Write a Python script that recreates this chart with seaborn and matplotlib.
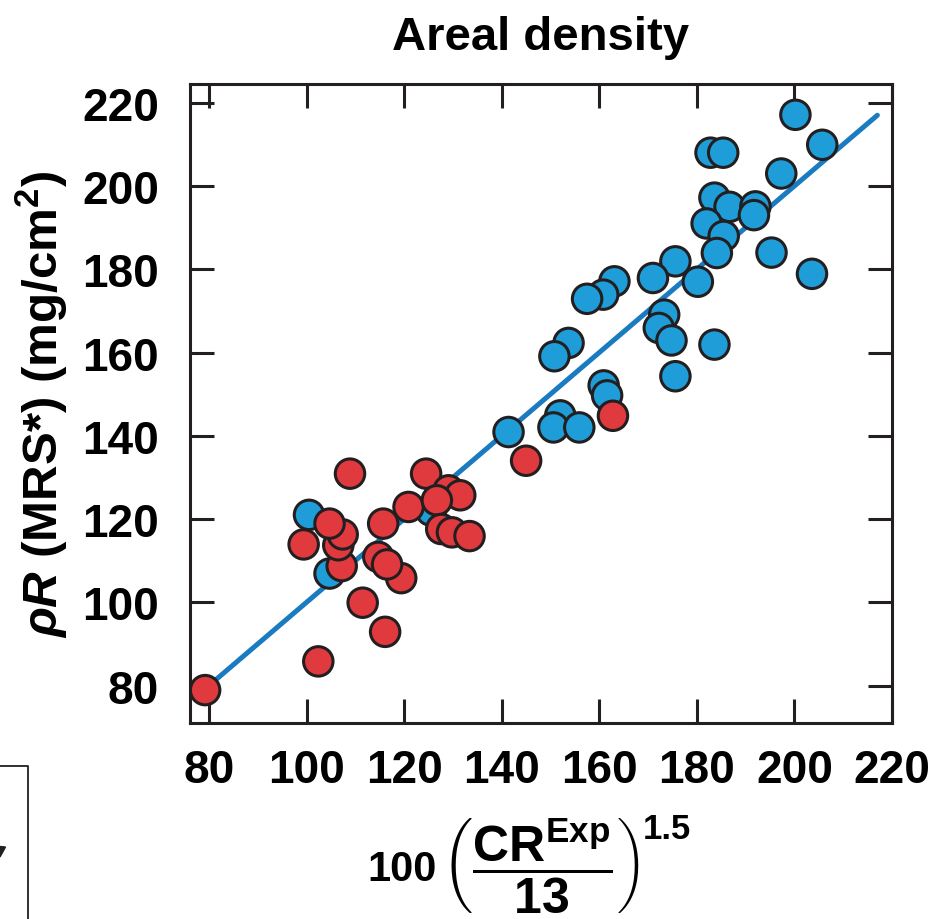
import matplotlib
matplotlib.use("Agg")
import matplotlib.pyplot as plt
import seaborn as sns
import pandas as pd
from matplotlib.lines import Line2D
from matplotlib.patches import Polygon

# ---- data ----
blue_x = [200.2, 205.7, 182.8, 185.4, 197.3, 183.6, 186.7, 192.0, 191.7, 182.0,
          185.5, 184.1, 195.3, 203.6, 175.6, 171.0, 180.2, 163.1, 160.8, 157.5,
          173.3, 172.2, 174.8, 183.6, 175.6, 153.7, 150.8, 160.9, 161.6, 152.0,
          150.6, 155.9, 141.4, 125.5, 100.5, 104.7]
blue_y = [217.1, 209.9, 208.0, 208.0, 203.0, 197.2, 195.0, 195.1, 193.0, 191.0,
          188.0, 183.9, 184.0, 178.9, 181.9, 177.9, 177.0, 177.1, 173.9, 172.9,
          169.1, 165.9, 162.9, 161.9, 154.3, 162.3, 159.1, 152.1, 149.7, 144.9,
          142.0, 142.0, 140.9, 122.0, 121.0, 106.9]
red_x = [79.2, 102.4, 116.1, 111.5, 119.4, 114.7, 116.5, 107.2, 99.4, 106.5,
         107.4, 104.7, 115.7, 108.9, 120.9, 124.5, 129.1, 131.5, 126.7, 127.6,
         129.8, 133.4, 145.0, 162.8]
red_y = [78.9, 85.8, 92.9, 99.9, 105.8, 110.9, 109.1, 108.7, 113.9, 113.7,
         116.3, 118.9, 118.9, 130.9, 122.9, 130.9, 126.9, 125.7, 124.5, 117.6,
         116.8, 115.9, 134.0, 144.8]
fit_x = [79.0, 217.0]
fit_y = [79.0, 217.0]
tick_vals = [80, 100, 120, 140, 160, 180, 200, 220]
title = "Areal density"
xlabel_prefix = "100"
xlabel = (r"$\left(\dfrac{\mathrm{CR}^{\mathrm{Exp}}}"
          r"{\mathrm{13}}\right)$")
xlabel_power = "1.5"
ylabel = r"$\rho R$ (MRS*) (mg/cm$^{2}$)"

# ---- style ----
sns.set_theme(style="ticks")
plt.rcParams["font.family"] = ["Liberation Sans", "DejaVu Sans"]
plt.rcParams["font.weight"] = "bold"
plt.rcParams["text.color"] = "black"
plt.rcParams["axes.labelcolor"] = "black"
plt.rcParams["xtick.color"] = "black"
plt.rcParams["ytick.color"] = "black"
plt.rcParams["mathtext.fontset"] = "custom"
plt.rcParams["mathtext.rm"] = "Liberation Sans:bold"
plt.rcParams["mathtext.bf"] = "Liberation Sans:bold"
plt.rcParams["mathtext.sf"] = "Liberation Sans:bold"
plt.rcParams["mathtext.it"] = "Liberation Sans:bold:italic"

dark = "#231f20"
W, H = 935, 920
fig = plt.figure(figsize=(W / 100, H / 100), dpi=100)
ax_l, ax_r, ax_t, ax_b = 189.5, 892, 85, 724
ax = fig.add_axes([ax_l / W, 1 - ax_b / H, (ax_r - ax_l) / W, (ax_b - ax_t) / H])


def axx(px):
    return (px - ax_l) / (ax_r - ax_l)


def axy(py):
    return (ax_b - py) / (ax_b - ax_t)


df = pd.DataFrame({
    "x": blue_x + red_x,
    "y": blue_y + red_y,
    "group": ["blue"] * len(blue_x) + ["red"] * len(red_x),
})

sns.lineplot(x=fit_x, y=fit_y, color="#1a7bc1", linewidth=3.6, ax=ax, zorder=1)
sns.scatterplot(data=df, x="x", y="y", hue="group",
                palette={"blue": "#1f9dd8", "red": "#e03a3e"},
                s=450, edgecolor=dark, linewidth=2.2, alpha=1,
                legend=False, ax=ax, zorder=2)

ax.set_xlim(76, 220)
ax.set_ylim(71, 224.5)
ax.set_xticks(tick_vals)
ax.set_yticks(tick_vals)
ax.tick_params(direction="in", length=17, width=2.2, color=dark,
               labelcolor="black", top=True, right=True, labelsize=33)
ax.tick_params(axis="x", pad=18)
ax.tick_params(axis="y", pad=22)
for lab in ax.get_xticklabels() + ax.get_yticklabels():
    lab.set_fontweight("bold")
for sp in ax.spines.values():
    sp.set_visible(True)
    sp.set_linewidth(2.2)
    sp.set_color(dark)

ax.set_title(title, fontsize=34, fontweight="bold", pad=25)

# x label: "100" + bracketed fraction + exponent
ax.set_xlabel(xlabel, fontsize=36, ha="left", va="top")
ax.xaxis.set_label_coords(axx(441), axy(817))
ax.text(axx(437), axy(870), xlabel_prefix, transform=ax.transAxes,
        ha="right", va="center", fontsize=30, fontweight="bold", color="black")
ax.text(axx(643), axy(813), xlabel_power, transform=ax.transAxes,
        ha="left", va="top", fontsize=25, fontweight="bold", color="black")

ax.set_ylabel(ylabel, fontsize=35.5, fontweight="bold")
ax.yaxis.set_label_coords(axx(70), 0.5)

# fragment of a neighbouring panel's box at bottom-left
fig.add_artist(Line2D([0, 28 / W, 28 / W], [1 - 767 / H, 1 - 767 / H, 0],
                      transform=fig.transFigure, color=dark, lw=1.3))
fig.add_artist(Polygon([(0, 1 - 847.5 / H), (5.5 / W, 1 - 848 / H), (0, 1 - 858 / H)],
                       closed=True, transform=fig.transFigure, color=dark))

fig.savefig("out.png", dpi=100)
